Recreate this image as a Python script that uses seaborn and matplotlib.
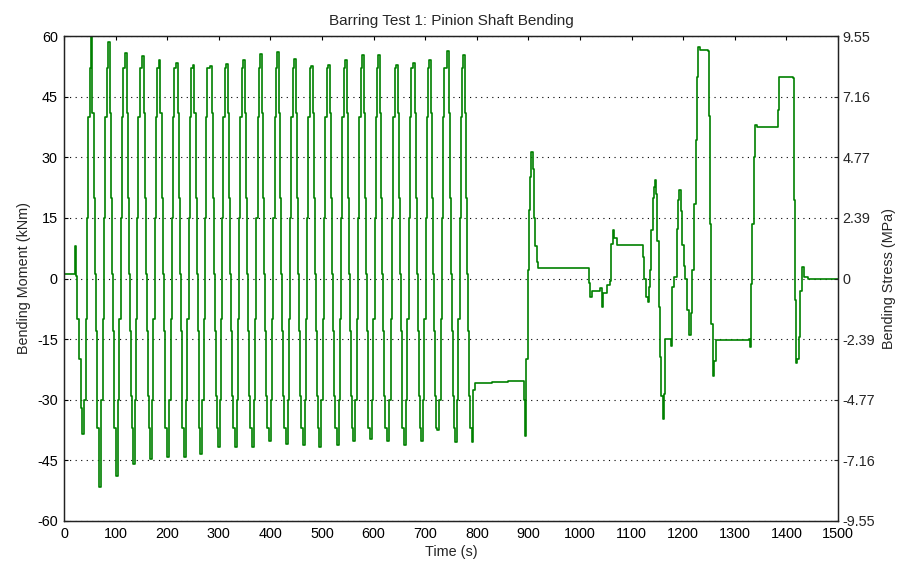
import matplotlib
matplotlib.use("Agg")
import matplotlib.pyplot as plt
import numpy as np
import pandas as pd
import seaborn as sns

# ---------------- data ----------------
# lead-in before the first trough
lead_t = [0, 21, 22.5, 24.6, 29.7, 32.4]
lead_v = [1.0, 8.0, 0.5, -10.0, -20.0, -32.0]

# oscillation troughs and peaks
trough_t = [35.5, 68.4, 100.8, 133, 166.7, 200, 232.6, 264, 298, 331, 364, 397,
            429.7, 462.6, 494.8, 528.5, 560.7, 593, 626.6, 659, 692, 723.4, 757.8, 790]
trough_v = [-38.4, -51.6, -48.8, -45.9, -44.6, -44.2, -44.2, -43.4, -41.8, -41.8, -41.8, -40.3,
            -40.9, -41.3, -41.8, -41.3, -40.1, -39.7, -40.1, -41.3, -40.1, -37.6, -40.5, -40.5]
peak_t = [51.7, 84.7, 118.8, 151, 183.5, 216.5, 249.4, 283, 314, 347, 380, 413,
          446, 479, 512, 545, 577, 608.5, 643, 676, 708, 742, 774]
peak_v = [63.0, 58.5, 55.8, 55.0, 54.0, 53.4, 52.9, 52.6, 53.1, 54.1, 55.6, 56.0,
          54.4, 52.6, 52.9, 54.1, 55.2, 55.4, 52.9, 53.4, 54.1, 56.3, 55.2]

# typical stair levels on the rising and falling edges
rise_dt = [4, 6.5, 9, 11, 14]
rise_v = [-30, -10, 15, 40, 52]
fall_dt = [3.5, 5.5, 7.5, 9.5, 11.5, 13]
fall_v = [41, 20, 1, -13, -29, -37]

# tail after the oscillations
tail_t = [793, 796.5, 830, 860, 891.5, 893, 895, 899, 902, 904, 906, 909, 911, 913, 916, 919.5,
          1016, 1018, 1019.4, 1022.7, 1038.8, 1042, 1045, 1051.6, 1058, 1061, 1063, 1066, 1071,
          1121.5, 1124.6, 1128, 1131, 1133.7, 1135.7, 1138, 1141, 1143.4, 1145.3, 1147.3, 1150,
          1153, 1155, 1157.6, 1160, 1163, 1165, 1174.4, 1176, 1178, 1182, 1187.4, 1190.5,
          1192.5, 1195, 1198, 1202, 1204, 1208, 1212, 1214.5, 1217.6, 1221, 1224, 1226.7,
          1229, 1232, 1248.6, 1250.6, 1252.6, 1254.5, 1257, 1260.3, 1263.6, 1328, 1329.5,
          1331.4, 1334, 1336.6, 1339.7, 1342.4, 1382.4, 1384.3, 1386.3, 1413.4, 1414.7,
          1416.7, 1419, 1421, 1424, 1426.4, 1430, 1434, 1442.5, 1500]
tail_v = [-27.5, -25.8, -25.6, -25.3, -30, -39, -20, 2, 17, 25, 31.3, 27, 15, 8, 4, 2.5,
          2.6, -1.2, -4.6, -3, -2.3, -7, -3.7, -1.7, -0.5, 8.6, 11.9, 9.9, 8.4,
          5.3, 0, -4.6, -5.9, -2.2, 2, 11.9, 19.8, 22.6, 24.3, 21, 9.4,
          -7.1, -19.5, -29, -34.7, -28.5, -14.9, -14.9, -16.7, -2.1, 0.3, 12.3, 19.3,
          22, 16.8, 8.2, 3.2, 0, -7.9, -14.1, -8.6, 2, 18.5, 34.2, 49.8,
          57.2, 56.5, 56.3, 40.3, 13.5, -11.2, -24, -20.4, -15.3, -15.0, -17,
          -1.3, 13.5, 30, 37.9, 37.5, 37.5, 41.6, 49.8, 49.5, 19.3,
          -5.4, -21, -20, -14.5, -3, 2.8, 0.4, -0.2, -0.2]

y_ticks = [-60, -45, -30, -15, 0, 15, 30, 45, 60]
stress_labels = ["-9.55", "-7.16", "-4.77", "-2.39", "0", "2.39", "4.77", "7.16", "9.55"]
x_ticks = list(range(0, 1501, 100))

# ---------------- assemble series ----------------
t = list(lead_t)
v = list(lead_v)
for i in range(len(peak_t)):
    t.append(trough_t[i]); v.append(trough_v[i])
    for dt, lv in zip(rise_dt, rise_v):
        t.append(trough_t[i] + dt); v.append(lv)
    t.append(peak_t[i]); v.append(peak_v[i])
    for dt, lv in zip(fall_dt, fall_v):
        t.append(peak_t[i] + dt); v.append(lv)
t.append(trough_t[-1]); v.append(trough_v[-1])
t += tail_t
v += tail_v
df = pd.DataFrame({"Time (s)": t, "Bending Moment (kNm)": v})

# ---------------- plot ----------------
sns.set_style("white")
plt.rcParams["font.family"] = ["Liberation Sans", "DejaVu Sans"]
plt.rcParams["font.size"] = 10.4
plt.rcParams["axes.unicode_minus"] = False

fig = plt.figure(figsize=(8.98, 5.64), dpi=100)
ax = fig.add_axes([64 / 898, 1 - 521 / 564, (838 - 64) / 898, (521 - 36) / 564])

sns.lineplot(data=df, x="Time (s)", y="Bending Moment (kNm)", ax=ax, color="#008000",
             linewidth=1.2, drawstyle="steps-post", estimator=None, sort=False)

ax.set_xlim(0, 1500)
ax.set_ylim(-60, 60)
ax.set_xticks(x_ticks)
ax.set_yticks(y_ticks)
ax.yaxis.grid(True, linestyle=(0, (1, 4)), color="black", linewidth=0.8)
ax.xaxis.grid(False)
ax.tick_params(axis="both", direction="in", length=3, width=0.8, colors="black",
               labelsize=10.4, top=True)
ax.tick_params(axis="x", pad=4)
ax.tick_params(axis="y", pad=4.5)
for s in ax.spines.values():
    s.set_color("#222222")
    s.set_linewidth(0.9)
ax.set_title("Barring Test 1: Pinion Shaft Bending", fontsize=11, pad=8)
ax.set_xlabel("Time (s)", fontsize=10.4, labelpad=3)
ax.set_ylabel("Bending Moment (kNm)", fontsize=10.4, labelpad=4)

ax2 = ax.twinx()
ax2.set_ylim(-60, 60)
ax2.set_yticks(y_ticks)
ax2.set_yticklabels(stress_labels)
ax2.tick_params(axis="y", direction="in", length=3, width=0.8, labelsize=10.4, pad=3)
ax2.set_ylabel("Bending Stress (MPa)", fontsize=10.4, labelpad=5)
ax2.grid(False)
for s in ax2.spines.values():
    s.set_color("#222222")
    s.set_linewidth(0.9)

fig.savefig("out.png", dpi=100)
